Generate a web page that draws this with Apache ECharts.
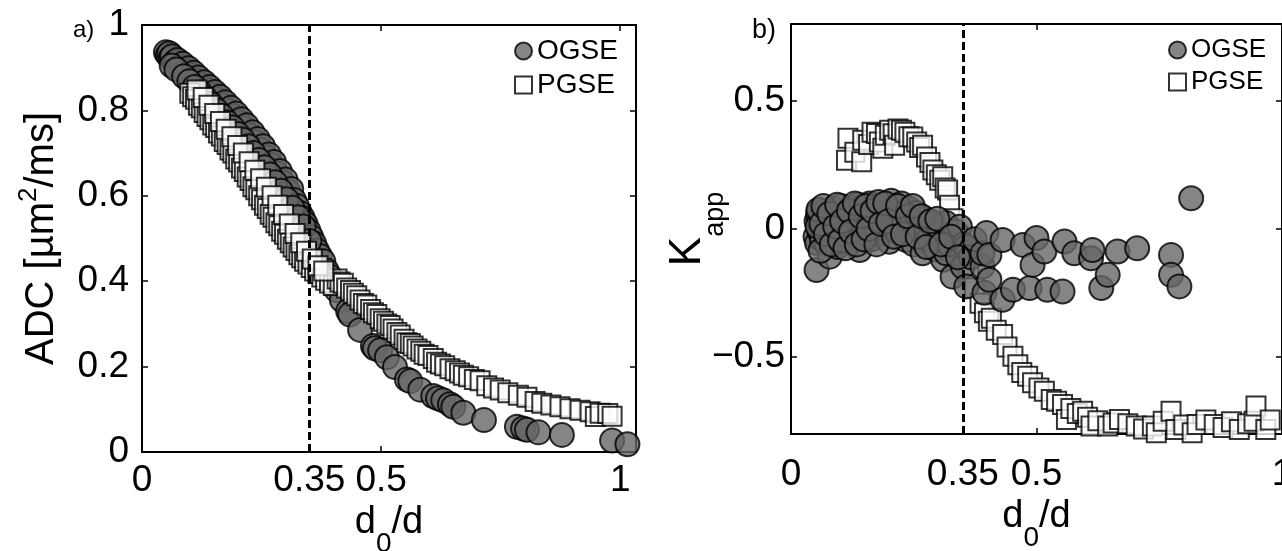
<!DOCTYPE html>
<html><head><meta charset="utf-8">
<script src="https://cdn.jsdelivr.net/npm/echarts@6/dist/echarts.min.js"></script>
<style>html,body{margin:0;padding:0;background:#fff}#c{width:1282px;height:551px}</style>
</head><body><div id="c"></div>
<script>
// ---------- data ----------
const xLabelValues = [0, 0.35, 0.5, 1];
const xTickValues = [0.5, 1];
const adcTickValues = [0, 0.2, 0.4, 0.6, 0.8, 1];
const kTickValues = [-0.5, 0, 0.5];
const kOuterLabelValues = [-0.5, 0.5];
const kZeroLabel = 0;
const cutoff = 0.35;

// panel a: ADC vs d0/d
const ogseADC = [
[0.050,0.936],[0.054,0.930],[0.057,0.934],[0.060,0.922],[0.063,0.927],[0.069,0.913],[0.074,0.918],[0.080,0.903],
[0.085,0.909],[0.091,0.893],[0.097,0.899],[0.102,0.883],[0.108,0.888],[0.113,0.870],[0.118,0.877],[0.124,0.860],
[0.130,0.866],[0.135,0.849],[0.141,0.855],[0.146,0.836],[0.152,0.843],[0.157,0.826],[0.163,0.832],[0.169,0.812],
[0.174,0.819],[0.180,0.800],[0.186,0.806],[0.191,0.787],[0.197,0.793],[0.203,0.772],[0.208,0.779],[0.214,0.758],
[0.219,0.765],[0.225,0.742],[0.231,0.749],[0.236,0.726],[0.242,0.733],[0.248,0.708],[0.253,0.716],[0.259,0.690],
[0.265,0.697],[0.270,0.672],[0.276,0.679],[0.282,0.652],[0.288,0.658],[0.294,0.631],[0.300,0.638],[0.306,0.610],
[0.312,0.616],[0.318,0.590],[0.324,0.576],[0.330,0.560],[0.336,0.548],[0.342,0.534],[0.348,0.518],[0.354,0.503],
[0.360,0.488],[0.366,0.472],[0.372,0.459],[0.379,0.447],[0.386,0.425],[0.393,0.411],[0.400,0.395],[0.407,0.379],
[0.418,0.356],[0.431,0.330],[0.435,0.322],[0.456,0.286],[0.483,0.248],[0.487,0.243],[0.498,0.238],[0.512,0.222],
[0.529,0.199],[0.554,0.170],[0.561,0.166],[0.582,0.146],[0.609,0.131],[0.619,0.126],[0.630,0.121],[0.644,0.112],
[0.651,0.106],[0.672,0.092],[0.715,0.075],[0.784,0.059],[0.797,0.055],[0.805,0.052],[0.829,0.046],[0.878,0.040],
[0.983,0.027],[1.015,0.018],
[0.062,0.905],[0.072,0.896],[0.088,0.880],[0.099,0.868],[0.110,0.855],[0.121,0.842],[0.133,0.828],[0.144,0.815],
[0.156,0.800],[0.167,0.787],[0.178,0.772],[0.189,0.760],[0.200,0.745],[0.211,0.731],[0.222,0.716],[0.233,0.700],
[0.244,0.684],[0.256,0.667],[0.267,0.650],[0.278,0.632],[0.290,0.612],[0.302,0.592],[0.314,0.572],[0.326,0.550],
[0.338,0.528],[0.350,0.494]
];
const pgseADC = [
[0.100,0.840],[0.106,0.832],[0.112,0.826],[0.118,0.812],[0.124,0.806],[0.130,0.795],[0.136,0.786],[0.142,0.778],
[0.148,0.766],[0.154,0.760],[0.160,0.747],[0.166,0.740],[0.172,0.727],[0.178,0.720],[0.184,0.707],[0.190,0.700],
[0.196,0.686],[0.202,0.679],[0.208,0.665],[0.214,0.657],[0.220,0.644],[0.226,0.636],[0.232,0.621],[0.238,0.614],
[0.244,0.600],[0.250,0.591],[0.256,0.578],[0.262,0.570],[0.268,0.557],[0.274,0.550],[0.280,0.537],[0.286,0.530],
[0.292,0.517],[0.298,0.510],[0.304,0.498],[0.310,0.490],[0.316,0.480],[0.322,0.472],[0.328,0.462],[0.334,0.455],
[0.340,0.447],[0.347,0.440],[0.354,0.432],[0.361,0.424],[0.368,0.418],[0.376,0.410],[0.384,0.402],[0.392,0.396],
[0.400,0.390],[0.408,0.405],[0.414,0.398],[0.421,0.395],[0.428,0.384],[0.436,0.378],[0.442,0.372],[0.449,0.366],
[0.456,0.356],[0.463,0.348],[0.470,0.344],[0.478,0.334],[0.484,0.326],[0.491,0.322],[0.498,0.312],[0.505,0.306],
[0.512,0.300],[0.519,0.296],[0.525,0.288],[0.533,0.280],[0.540,0.274],[0.548,0.264],[0.554,0.256],[0.561,0.254],
[0.567,0.248],[0.575,0.241],[0.583,0.236],[0.590,0.229],[0.598,0.226],[0.609,0.219],[0.616,0.210],[0.624,0.206],
[0.633,0.202],[0.644,0.195],[0.655,0.190],[0.664,0.185],[0.672,0.180],[0.683,0.176],[0.695,0.170],[0.707,0.167],
[0.721,0.155],[0.735,0.150],[0.749,0.145],[0.765,0.139],[0.787,0.133],[0.805,0.128],[0.822,0.118],[0.836,0.114],
[0.855,0.110],[0.874,0.106],[0.895,0.101],[0.916,0.098],[0.937,0.094],[0.948,0.083],[0.958,0.091],[0.974,0.090],
[0.983,0.084],
[0.115,0.848],[0.128,0.830],[0.140,0.812],[0.152,0.793],[0.164,0.774],[0.176,0.756],[0.188,0.738],[0.200,0.718],
[0.212,0.700],[0.224,0.680],[0.236,0.660],[0.248,0.640],[0.260,0.620],[0.272,0.600],[0.284,0.578],[0.296,0.556],
[0.308,0.534],[0.320,0.512],[0.332,0.490],[0.344,0.470],[0.356,0.452],[0.368,0.436],[0.380,0.424]
];

// panel b: Kapp vs d0/d
const ogseK = [
[0.050,-0.030],[0.052,0.030],[0.053,-0.055],[0.055,0.060],[0.057,0.023],[0.052,-0.160],[0.058,-0.010],[0.060,0.045],
[0.063,-0.040],[0.067,0.010],[0.070,0.070],[0.073,-0.060],[0.076,0.030],[0.079,-0.108],[0.082,0.000],[0.085,0.080],
[0.088,-0.030],[0.092,0.050],[0.095,-0.070],[0.098,0.020],[0.102,0.090],[0.105,-0.020],[0.108,0.040],[0.113,0.062],
[0.116,-0.050],[0.120,0.010],[0.124,0.085],[0.128,-0.030],[0.132,0.045],[0.136,0.095],[0.140,-0.082],[0.144,0.020],
[0.146,0.087],[0.150,-0.010],[0.155,0.060],[0.160,0.100],[0.164,-0.040],[0.168,0.030],[0.172,0.090],[0.176,-0.020],
[0.180,0.050],[0.185,0.095],[0.190,0.000],[0.195,0.070],[0.200,-0.050],[0.204,0.110],[0.207,0.040],[0.212,0.090],
[0.216,-0.010],[0.220,0.060],[0.225,0.100],[0.230,0.020],[0.235,-0.043],[0.240,0.080],[0.245,0.030],[0.250,-0.060],
[0.255,0.062],[0.262,0.000],[0.268,-0.095],[0.273,0.040],[0.280,-0.040],[0.289,0.009],[0.295,-0.080],[0.302,-0.020],
[0.310,-0.120],[0.316,0.023],[0.316,-0.095],[0.322,-0.060],[0.329,-0.186],[0.335,-0.010],[0.344,0.009],[0.350,-0.147],
[0.352,-0.060],[0.357,-0.069],[0.357,-0.224],[0.366,-0.110],[0.374,-0.040],[0.390,-0.147],[0.390,-0.095],[0.394,-0.249],
[0.398,-0.016],[0.404,-0.101],[0.404,-0.198],[0.431,-0.043],[0.431,-0.276],[0.452,-0.237],[0.472,-0.062],[0.486,-0.230],
[0.492,-0.140],[0.500,-0.035],[0.516,-0.088],[0.522,-0.237],[0.553,-0.244],[0.557,-0.049],[0.577,-0.095],[0.611,-0.114],
[0.614,-0.082],[0.632,-0.230],[0.645,-0.179],[0.665,-0.088],[0.705,-0.075],[0.774,-0.101],[0.774,-0.179],[0.791,-0.224],
[0.815,0.120],
[0.054,0.010],[0.056,0.075],[0.060,-0.085],[0.062,0.020],[0.066,0.090],[0.071,-0.020],[0.078,0.060],[0.083,-0.060],
[0.090,0.010],[0.094,0.095],[0.100,-0.045],[0.104,0.030],[0.111,-0.075],[0.118,0.070],[0.122,-0.010],[0.130,0.100],
[0.134,-0.060],[0.142,0.050],[0.148,-0.040],[0.153,0.090],[0.158,0.000],[0.166,0.070],[0.174,-0.060],[0.178,0.105],
[0.183,0.020],[0.192,0.100],[0.198,0.030],[0.210,-0.030],[0.218,0.090],[0.228,-0.020],[0.238,0.050],[0.248,0.090],
[0.258,-0.030],[0.266,0.050],[0.276,-0.070],[0.284,0.030],[0.298,0.040],[0.306,-0.060],[0.326,-0.030],[0.340,-0.110]
];
const pgseK = [
[0.113,0.268],[0.116,0.354],[0.130,0.300],[0.144,0.262],[0.146,0.346],[0.158,0.330],[0.165,0.378],[0.174,0.373],
[0.180,0.340],[0.187,0.315],[0.192,0.366],[0.201,0.385],[0.208,0.372],[0.211,0.327],[0.218,0.390],[0.225,0.385],
[0.232,0.378],[0.240,0.360],[0.248,0.359],[0.256,0.340],[0.262,0.318],[0.268,0.327],[0.276,0.281],[0.283,0.260],
[0.289,0.230],[0.296,0.212],[0.303,0.190],[0.309,0.204],[0.314,0.160],[0.319,0.152],[0.323,0.093],[0.330,0.040],
[0.340,-0.030],[0.350,-0.100],[0.362,-0.170],[0.374,-0.230],[0.385,-0.290],[0.394,-0.327],[0.402,-0.360],[0.408,-0.348],
[0.418,-0.395],[0.431,-0.412],[0.440,-0.460],[0.452,-0.497],[0.462,-0.530],[0.470,-0.560],[0.482,-0.575],[0.492,-0.600],
[0.505,-0.620],[0.516,-0.633],[0.530,-0.665],[0.541,-0.672],[0.553,-0.685],[0.561,-0.743],[0.570,-0.700],[0.583,-0.720],
[0.594,-0.711],[0.604,-0.735],[0.611,-0.769],[0.625,-0.748],[0.645,-0.769],[0.656,-0.757],[0.669,-0.743],[0.686,-0.760],
[0.703,-0.769],[0.718,-0.780],[0.736,-0.769],[0.744,-0.795],[0.758,-0.750],[0.774,-0.711],[0.784,-0.782],[0.800,-0.765],
[0.817,-0.795],[0.827,-0.763],[0.845,-0.745],[0.862,-0.763],[0.880,-0.775],[0.897,-0.752],[0.913,-0.782],[0.930,-0.760],
[0.943,-0.750],[0.947,-0.691],[0.967,-0.782],[0.976,-0.745]
];

// ---------- styling ----------
const FONT = '"Liberation Sans", Arial, Helvetica, sans-serif';
const BLACK = '#000';
const LABEL_SIZE = 37;
const circleStyle = {color:'#666666', borderColor:BLACK, borderWidth:2};
const squareStyle = {color:'#ffffff', borderColor:BLACK, borderWidth:2};
const tick = (vals) => ({show:true, inside:true, length:6, customValues:vals, lineStyle:{color:BLACK, width:1.5}});
const lbl = (vals, margin) => ({show:true, customValues:vals, margin:margin, fontSize:LABEL_SIZE, color:BLACK,
  fontFamily:FONT, formatter: v => String(v)});
const txt = v => (v < 0 ? '\u2212' + String(-v) : String(v));
const yLbl = (vals, margin) => ({show:true, customValues:vals, margin:margin, align:'right',
  fontSize:LABEL_SIZE, color:BLACK, fontFamily:FONT, formatter: txt});
const hiddenLine = {show:false, onZero:false};
const K_LABEL_MARGIN = 6;

function xName(gap){
  return {
    name:'{m|d}{s|0}{m|/d}', nameLocation:'middle', nameGap:gap,
    nameTextStyle:{rich:{
      m:{fontSize:38, fontFamily:FONT, color:BLACK},
      s:{fontSize:28, fontFamily:FONT, color:BLACK, padding:[42,0,0,0]}
    }}
  };
}

const chart = echarts.init(document.getElementById('c'), null, {renderer:'canvas'});
const option = {
  animation:false,
  backgroundColor:'#fff',
  grid:[
    {left:142, top:25, width:494, height:427, show:true, borderColor:BLACK, borderWidth:2,
      containLabel:false, outerBoundsMode:'none'},
    {left:791, top:24, width:491, height:410, show:true, borderColor:BLACK, borderWidth:2,
      containLabel:false, outerBoundsMode:'none'}
  ],
  xAxis:[
    Object.assign({gridIndex:0, type:'value', min:0, max:1.033, position:'bottom',
      axisLine:hiddenLine, splitLine:{show:false},
      axisTick:tick(xTickValues), axisLabel:lbl(xLabelValues, 10)}, xName(30)),
    {gridIndex:0, type:'value', min:0, max:1.033, position:'top',
      axisLine:hiddenLine, splitLine:{show:false}, axisTick:tick(xTickValues), axisLabel:{show:false}},
    Object.assign({gridIndex:1, type:'value', min:0, max:1, position:'bottom',
      axisLine:hiddenLine, splitLine:{show:false},
      axisTick:tick(xTickValues), axisLabel:lbl(xLabelValues, 22)}, xName(29)),
    {gridIndex:1, type:'value', min:0, max:1, position:'top',
      axisLine:hiddenLine, splitLine:{show:false}, axisTick:tick(xTickValues), axisLabel:{show:false}}
  ],
  yAxis:[
    {gridIndex:0, type:'value', min:0, max:1, position:'left',
      axisLine:hiddenLine, splitLine:{show:false},
      axisTick:tick(adcTickValues), axisLabel:yLbl(adcTickValues, 13),
      name:'{m|ADC [\u00b5m}{p|2}{m|/ms]}', nameLocation:'middle', nameRotate:90, nameGap:74,
      nameMoveOverlap:false,
      nameTextStyle:{rich:{
        m:{fontSize:40, fontFamily:FONT, color:BLACK},
        p:{fontSize:26, fontFamily:FONT, color:BLACK, padding:[0,0,26,0]}
      }}},
    {gridIndex:0, type:'value', min:0, max:1, position:'right',
      axisLine:hiddenLine, splitLine:{show:false}, axisTick:tick(adcTickValues), axisLabel:{show:false}},
    {gridIndex:1, type:'value', min:-0.8, max:0.8, position:'left',
      axisLine:hiddenLine, splitLine:{show:false},
      axisTick:tick(kTickValues), axisLabel:yLbl(kOuterLabelValues, K_LABEL_MARGIN),
      name:'{m|K}{s|app}', nameLocation:'middle', nameRotate:90, nameGap:62,
      nameMoveOverlap:false,
      nameTextStyle:{rich:{
        m:{fontSize:44, fontFamily:FONT, color:BLACK},
        s:{fontSize:27, fontFamily:FONT, color:BLACK, padding:[56,0,0,0]}
      }}},
    {gridIndex:1, type:'value', min:-0.8, max:0.8, position:'right',
      axisLine:hiddenLine, splitLine:{show:false}, axisTick:tick(kTickValues), axisLabel:{show:false}}
  ],
  legend:[
    {orient:'vertical', left:509, top:32, itemWidth:17, itemHeight:17, itemGap:6,
      textStyle:{fontSize:28, fontFamily:FONT, color:BLACK},
      data:[{name:'OGSE', icon:'circle'}, {name:'PGSE', icon:'rect'}], selectedMode:false},
    {orient:'vertical', left:1163, top:32, itemWidth:17, itemHeight:17, itemGap:6,
      textStyle:{fontSize:26, fontFamily:FONT, color:BLACK},
      data:[{name:'OGSE', icon:'circle'}, {name:'PGSE', icon:'rect'}], selectedMode:false}
  ],
  graphic:[
    {id:'tagA', type:'text', left:73, top:18, style:{text:'a)', fontSize:24, fontFamily:FONT, fill:BLACK}},
    {id:'tagB', type:'text', left:752, top:17, style:{text:'b)', fontSize:27, fontFamily:FONT, fill:BLACK}}
  ],
  series:[
    {name:'OGSE', type:'scatter', xAxisIndex:0, yAxisIndex:0, symbol:'circle', symbolSize:24,
      itemStyle:circleStyle, data:ogseADC, z:2},
    {name:'PGSE', type:'scatter', xAxisIndex:0, yAxisIndex:0, symbol:'rect', symbolSize:19,
      itemStyle:squareStyle, data:pgseADC, z:3},
    {name:'PGSE', type:'scatter', xAxisIndex:2, yAxisIndex:2, symbol:'rect', symbolSize:19,
      itemStyle:squareStyle, data:pgseK, z:2},
    {name:'OGSE', type:'scatter', xAxisIndex:2, yAxisIndex:2, symbol:'circle', symbolSize:24,
      itemStyle:circleStyle, data:ogseK, z:3},
    {name:'cutA', type:'scatter', xAxisIndex:0, yAxisIndex:0, data:[], z:10, silent:true,
      markLine:{silent:true, symbol:'none', label:{show:false},
        lineStyle:{color:BLACK, type:[8,4], width:3}, data:[{xAxis:cutoff}]}},
    {name:'cutB', type:'scatter', xAxisIndex:2, yAxisIndex:2, data:[], z:10, silent:true,
      markLine:{silent:true, symbol:'none', label:{show:false},
        lineStyle:{color:BLACK, type:[8,4], width:3}, data:[{xAxis:cutoff}]}}
  ]
};
chart.setOption(option);

// The zero label of the K axis, placed through the axis scales like the other tick labels.
const zeroY = chart.convertToPixel({yAxisIndex:2}, kZeroLabel);
const axisX = chart.convertToPixel({xAxisIndex:2}, 0);
chart.setOption({graphic:[
  {id:'kZero', type:'text', x:axisX - K_LABEL_MARGIN, y:zeroY,
    style:{text:txt(kZeroLabel), fontSize:LABEL_SIZE, fontFamily:FONT, fill:BLACK,
      align:'right', verticalAlign:'middle'}}
]});
</script>
</body></html>
